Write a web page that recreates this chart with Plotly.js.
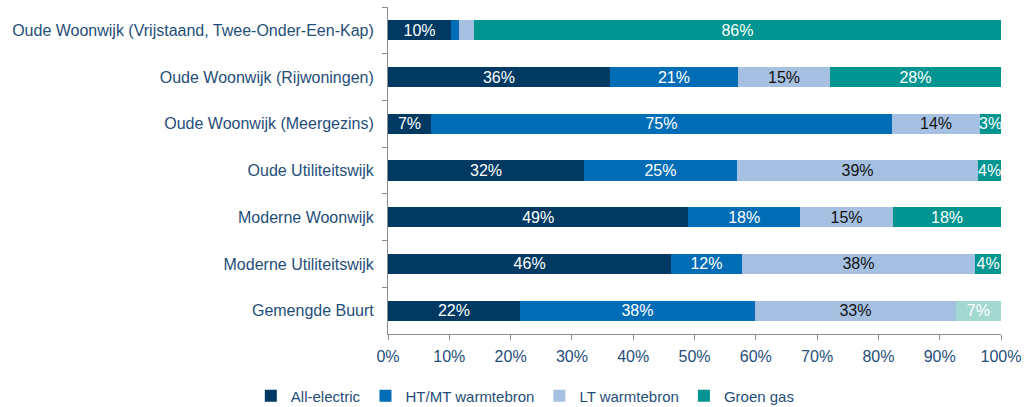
<!DOCTYPE html>
<html>
<head>
<meta charset="utf-8">
<script src="https://cdn.plot.ly/plotly-3.0.1.min.js"></script>
<style>
  html, body { margin: 0; padding: 0; background: #ffffff; }
  #chart { width: 1024px; height: 407px; }
</style>
</head>
<body>
<div id="chart"></div>
<script>
const CATEGORIES = [
  "Oude Woonwijk (Vrijstaand, Twee-Onder-Een-Kap)",
  "Oude Woonwijk (Rijwoningen)",
  "Oude Woonwijk (Meergezins)",
  "Oude Utiliteitswijk",
  "Moderne Woonwijk",
  "Moderne Utiliteitswijk",
  "Gemengde Buurt"
];

const ALL_ELECTRIC = [10.3, 36.2, 7.0, 32.0, 49.0, 46.2, 21.5];
const HT_MT = [1.3, 20.9, 75.2, 24.9, 18.2, 11.5, 38.4];
const LT = [2.4, 15.0, 14.4, 39.4, 15.2, 38.1, 32.7];
const GROEN_GAS = [86.0, 27.9, 3.4, 3.7, 17.6, 4.2, 7.4];

const SERIES_NAMES = ["All-electric", "HT/MT warmtebron", "LT warmtebron", "Groen gas"];

const TEXT_BLUE = "#1f4e79";
const FONT = "Liberation Sans, Arial, sans-serif";

function labels(values) {
  return values.map(function(v) {
    return v < 3 ? "" : Math.round(v) + "%";
  });
}

function makeTrace(name, values, color, textColor) {
  return {
    type: "bar",
    orientation: "h",
    name: name,
    y: CATEGORIES,
    x: values,
    marker: { color: color, line: { width: 0 } },
    text: labels(values),
    textposition: "inside",
    insidetextanchor: "middle",
    constraintext: "none",
    textfont: { family: FONT, size: 16, color: textColor },
    hoverinfo: "skip"
  };
}

// last row's groen gas is drawn lighter in the original
const greenColors = GROEN_GAS.map(function(v, i) {
  return i === GROEN_GAS.length - 1 ? "#a3d8d1" : "#009590";
});

const traces = [
  makeTrace(SERIES_NAMES[0], ALL_ELECTRIC, "#003a63", "#ffffff"),
  makeTrace(SERIES_NAMES[1], HT_MT, "#006db6", "#ffffff"),
  makeTrace(SERIES_NAMES[2], LT, "#a6c0e2", "#111111"),
  makeTrace(SERIES_NAMES[3], GROEN_GAS, greenColors, "#ffffff")
];

const layout = {
  width: 1024,
  height: 407,
  barmode: "stack",
  bargap: 0.57,
  paper_bgcolor: "#ffffff",
  plot_bgcolor: "#ffffff",
  font: { family: FONT, size: 16, color: TEXT_BLUE },
  margin: { l: 388, r: 23, t: 7, b: 73 },
  showlegend: true,
  legend: {
    orientation: "h",
    xref: "container",
    yref: "container",
    x: 0.513,
    xanchor: "center",
    y: 0.027,
    yanchor: "middle",
    traceorder: "normal",
    font: { family: FONT, size: 15, color: TEXT_BLUE },
    itemwidth: 30
  },
  xaxis: {
    range: [0, 100],
    dtick: 10,
    ticksuffix: "%",
    showgrid: false,
    zeroline: false,
    showline: true,
    linecolor: "#8c8c8c",
    linewidth: 1,
    ticks: "outside",
    ticklen: 5,
    tickcolor: "#8c8c8c",
    ticklabelstandoff: 3,
    tickfont: { family: FONT, size: 16, color: TEXT_BLUE }
  },
  yaxis: {
    autorange: "reversed",
    showgrid: false,
    zeroline: false,
    showline: true,
    linecolor: "#8c8c8c",
    linewidth: 1,
    ticks: "outside",
    tickson: "boundaries",
    ticklen: 5,
    tickcolor: "#8c8c8c",
    ticklabelstandoff: 10,
    tickfont: { family: FONT, size: 16, color: TEXT_BLUE }
  }
};

Plotly.newPlot("chart", traces, layout, { displayModeBar: false, staticPlot: true });
</script>
</body>
</html>
